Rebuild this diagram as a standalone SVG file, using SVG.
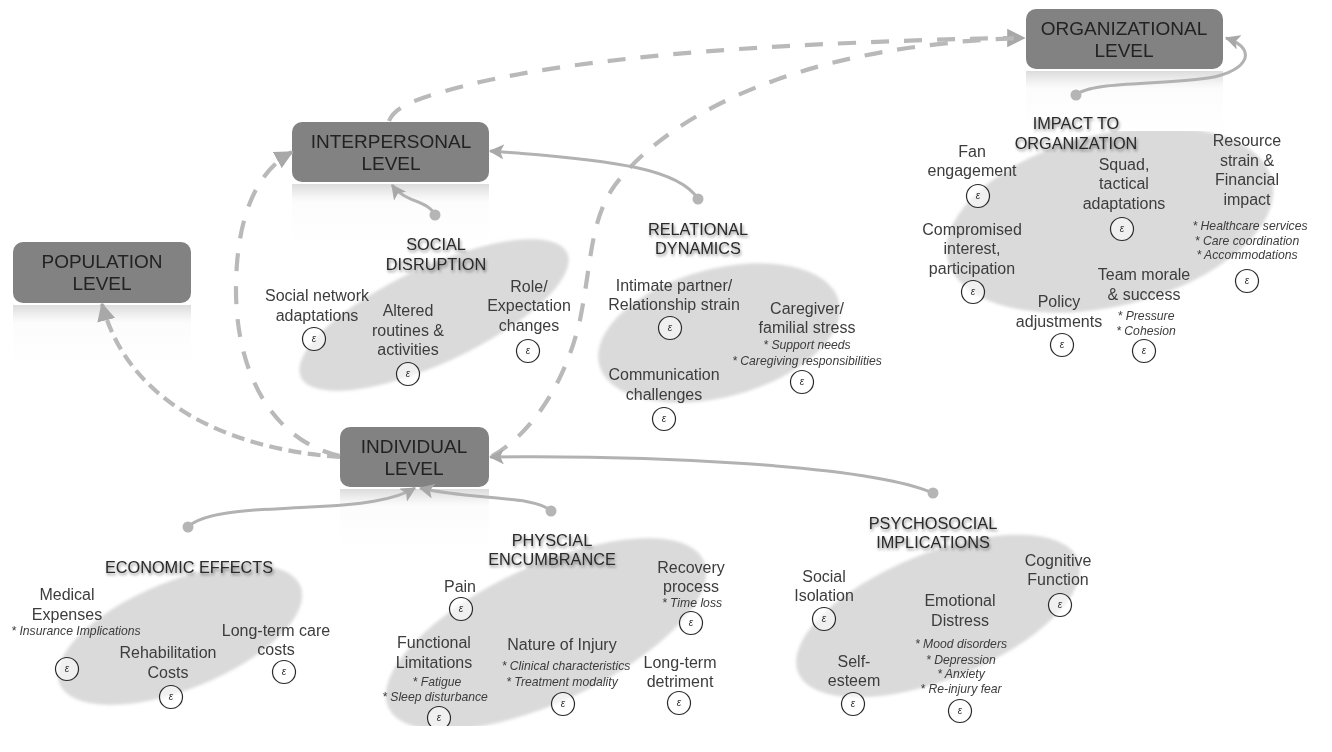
<svg xmlns="http://www.w3.org/2000/svg" width="1332" height="752" viewBox="0 0 1332 752">
<defs>
<style>
text{font-family:"Liberation Sans",Arial,sans-serif;fill:#3c3c3c;text-anchor:middle}
.lv{font-size:19px;fill:#222}
.hd{font-size:16.3px;fill:#2a2a2a;filter:url(#ts)}
.it{font-size:16px}
.sm{font-size:12.2px;font-style:italic}
.e{font-size:10px;font-style:italic;fill:#333}
.c{fill:#fff;fill-opacity:.6;stroke:#2a2a2a;stroke-width:1.2}
.b{fill:#828282}
.el{fill:#dadada;filter:url(#soft2)}
.cn{fill:none;stroke:#b2b2b2;stroke-width:3}
.d{fill:none;stroke:#b9b9b9;stroke-width:4.2;stroke-dasharray:18 15}
.d2{stroke-dasharray:13 6.5}
.dot{fill:#b5b5b5}
</style>
<filter id="ts" x="-10%" y="-30%" width="120%" height="170%"><feDropShadow dx="1" dy="2" stdDeviation="1.5" flood-color="#000" flood-opacity=".45"/></filter>
<filter id="soft" x="-5%" y="-5%" width="110%" height="110%"><feGaussianBlur stdDeviation=".5"/></filter>
<filter id="soft2" x="-5%" y="-5%" width="110%" height="110%"><feGaussianBlur stdDeviation="1.5"/></filter>
<linearGradient id="rf" x1="0" y1="0" x2="0" y2="1"><stop offset="0" stop-color="#dcdcdc"/><stop offset=".22" stop-color="#f6f6f6"/><stop offset=".3" stop-color="#fcfcfc"/><stop offset="1" stop-color="#fff"/></linearGradient>
<marker id="ah" markerWidth="5" markerHeight="5" refX="4.6" refY="2.5" orient="auto"><path d="M0 0L5 2.5L0 5L1.2 2.5Z" fill="#a8a8a8"/></marker>
<marker id="ad" markerWidth="4.4" markerHeight="4.4" refX="4" refY="2.2" orient="auto"><path d="M0 0L4.4 2.2L0 4.4Z" fill="#a8a8a8"/></marker>
</defs>
<rect width="1332" height="752" fill="#fff"/>
<g filter="url(#soft)">
<g id="blobs">
<ellipse class="el" cx="180" cy="635" rx="130" ry="54" transform="rotate(-22 180 635)"/>
<ellipse class="el" cx="434" cy="315" rx="147" ry="48" transform="rotate(-25 434 315)"/>
<ellipse class="el" cx="719" cy="333" rx="124" ry="64" transform="rotate(-15 719 333)"/>
<ellipse class="el" cx="1110" cy="220" rx="167" ry="86" transform="rotate(-14 1110 220)"/>
<ellipse class="el" cx="546" cy="634" rx="174" ry="68" transform="rotate(-25 546 634)"/>
<ellipse class="el" cx="938" cy="616" rx="151" ry="63" transform="rotate(-22 938 616)"/>
<rect x="380" y="726" width="180" height="26" fill="#fff"/>
</g>
<g id="organizational"><rect x="1026" y="71" width="197" height="60" fill="url(#rf)"/><rect x="1026" y="9" width="197" height="60" rx="10" class="b"/><text class="lv" x="1124" y="35">ORGANIZATIONAL</text><text class="lv" x="1124" y="57">LEVEL</text></g>
<g id="interpersonal"><rect x="292" y="184" width="197" height="60" fill="url(#rf)"/><rect x="292" y="122" width="197" height="60" rx="10" class="b"/><text class="lv" x="391" y="148">INTERPERSONAL</text><text class="lv" x="391" y="170">LEVEL</text></g>
<g id="population"><rect x="13" y="305" width="178" height="60" fill="url(#rf)"/><rect x="13" y="242" width="178" height="61" rx="10" class="b"/><text class="lv" x="102" y="268">POPULATION</text><text class="lv" x="102" y="290">LEVEL</text></g>
<g id="individual"><rect x="340" y="489" width="149" height="58" fill="url(#rf)"/><rect x="340" y="427" width="149" height="60" rx="10" class="b"/><text class="lv" x="414" y="453">INDIVIDUAL</text><text class="lv" x="414" y="475">LEVEL</text></g>
<g id="connectors">
<path class="d" d="M389 121C395 105 420 97 480 82C560 64 680 50 850 43C920 40 980 38 1024 38" marker-end="url(#ad)"/>
<path class="d" d="M492 456C530 435 565 385 580 320C592 260 590 220 615 185C660 125 770 60 950 43C970 40 1000 39 1024 38"/>
<path class="d" d="M340 456C270 440 236 370 236 290C236 230 250 175 292 152" marker-end="url(#ad)"/>
<path class="d d2" d="M340 457C240 450 130 410 102 304" marker-end="url(#ad)"/>
<path class="cn" d="M1076 95C1090 82 1150 85 1200 79C1245 75 1262 50 1226 38" marker-end="url(#ah)"/>
<path class="cn" d="M435 215C428 200 405 203 392 185" marker-end="url(#ah)"/>
<path class="cn" d="M698 199C680 170 620 160 490 151" marker-end="url(#ah)"/>
<path class="cn" d="M933 493C870 465 650 455 490 457" marker-end="url(#ah)"/>
<path class="cn" d="M188 527C205 510 260 510 310 507C360 505 395 500 415 488" marker-end="url(#ah)"/>
<path class="cn" d="M551 511C535 495 470 500 420 488" marker-end="url(#ah)"/>
<circle class="dot" cx="1076" cy="95" r="5.5"/>
<circle class="dot" cx="435" cy="215" r="5.5"/>
<circle class="dot" cx="698" cy="199" r="5.5"/>
<circle class="dot" cx="933" cy="493" r="5.5"/>
<circle class="dot" cx="188" cy="527" r="5.5"/>
<circle class="dot" cx="551" cy="511" r="5.5"/>
</g>
<g id="impact">
<text class="hd" x="1076" y="129">IMPACT TO</text><text class="hd" x="1076" y="149">ORGANIZATION</text>
<text class="it" x="972" y="157">Fan</text><text class="it" x="972" y="176">engagement</text>
<text class="it" x="1124" y="170">Squad,</text><text class="it" x="1124" y="189">tactical</text><text class="it" x="1124" y="209">adaptations</text>
<text class="it" x="1247" y="146">Resource</text><text class="it" x="1247" y="166">strain &amp;</text><text class="it" x="1247" y="185">Financial</text><text class="it" x="1247" y="205">impact</text>
<text class="sm" x="1250" y="230">* Healthcare services</text><text class="sm" x="1247" y="245">* Care coordination</text><text class="sm" x="1247" y="259">* Accommodations</text>
<text class="it" x="972" y="235">Compromised</text><text class="it" x="972" y="254">interest,</text><text class="it" x="972" y="274">participation</text>
<text class="it" x="1059" y="307">Policy</text><text class="it" x="1059" y="327">adjustments</text>
<text class="it" x="1144" y="280">Team morale</text><text class="it" x="1144" y="300">&amp; success</text>
<text class="sm" x="1146" y="320">* Pressure</text><text class="sm" x="1146" y="335">* Cohesion</text>
<circle class="c" cx="978" cy="196" r="11.5"/><text class="e" x="978" y="199">ε</text>
<circle class="c" cx="1122" cy="229" r="11.5"/><text class="e" x="1122" y="232">ε</text>
<circle class="c" cx="1247" cy="281" r="11.5"/><text class="e" x="1247" y="284">ε</text>
<circle class="c" cx="973" cy="292" r="11.5"/><text class="e" x="973" y="295">ε</text>
<circle class="c" cx="1062" cy="345" r="11.5"/><text class="e" x="1062" y="348">ε</text>
<circle class="c" cx="1144" cy="351" r="11.5"/><text class="e" x="1144" y="354">ε</text>
</g>
<g id="social">
<text class="hd" x="436" y="250">SOCIAL</text><text class="hd" x="436" y="270">DISRUPTION</text>
<text class="it" x="317" y="301">Social network</text><text class="it" x="317" y="321">adaptations</text>
<text class="it" x="408" y="316">Altered</text><text class="it" x="408" y="336">routines &amp;</text><text class="it" x="408" y="355">activities</text>
<text class="it" x="529" y="292">Role/</text><text class="it" x="529" y="311">Expectation</text><text class="it" x="529" y="331">changes</text>
<circle class="c" cx="314" cy="339" r="11.5"/><text class="e" x="314" y="342">ε</text>
<circle class="c" cx="408" cy="374" r="11.5"/><text class="e" x="408" y="377">ε</text>
<circle class="c" cx="528" cy="351" r="11.5"/><text class="e" x="528" y="354">ε</text>
</g>
<g id="relational">
<text class="hd" x="698" y="235">RELATIONAL</text><text class="hd" x="698" y="254">DYNAMICS</text>
<text class="it" x="674" y="291">Intimate partner/</text><text class="it" x="674" y="310">Relationship strain</text>
<text class="it" x="807" y="314">Caregiver/</text><text class="it" x="807" y="333">familial stress</text>
<text class="sm" x="807" y="349">* Support needs</text><text class="sm" x="807" y="365">* Caregiving responsibilities</text>
<text class="it" x="664" y="380">Communication</text><text class="it" x="664" y="400">challenges</text>
<circle class="c" cx="670" cy="328" r="11.5"/><text class="e" x="670" y="331">ε</text>
<circle class="c" cx="802" cy="382" r="11.5"/><text class="e" x="802" y="385">ε</text>
<circle class="c" cx="664" cy="419" r="11.5"/><text class="e" x="664" y="422">ε</text>
</g>
<g id="economic">
<text class="hd" x="189" y="573">ECONOMIC EFFECTS</text>
<text class="it" x="67" y="600">Medical</text><text class="it" x="67" y="620">Expenses</text>
<text class="sm" x="76" y="635">* Insurance Implications</text>
<text class="it" x="168" y="658">Rehabilitation</text><text class="it" x="168" y="678">Costs</text>
<text class="it" x="276" y="636">Long-term care</text><text class="it" x="276" y="655">costs</text>
<circle class="c" cx="67" cy="669" r="11.5"/><text class="e" x="67" y="672">ε</text>
<circle class="c" cx="171" cy="697" r="11.5"/><text class="e" x="171" y="700">ε</text>
<circle class="c" cx="284" cy="672" r="11.5"/><text class="e" x="284" y="675">ε</text>
</g>
<g id="physical">
<text class="hd" x="552" y="546">PHYSCIAL</text><text class="hd" x="552" y="565">ENCUMBRANCE</text>
<text class="it" x="460" y="592">Pain</text>
<text class="it" x="691" y="573">Recovery</text><text class="it" x="691" y="592">process</text>
<text class="sm" x="692" y="607">* Time loss</text>
<text class="it" x="434" y="648">Functional</text><text class="it" x="434" y="668">Limitations</text>
<text class="sm" x="437" y="686">* Fatigue</text><text class="sm" x="435" y="701">* Sleep disturbance</text>
<text class="it" x="562" y="650">Nature of Injury</text>
<text class="sm" x="566" y="670">* Clinical characteristics</text><text class="sm" x="562" y="686">* Treatment modality</text>
<text class="it" x="680" y="668">Long-term</text><text class="it" x="680" y="687">detriment</text>
<circle class="c" cx="461" cy="609" r="11.5"/><text class="e" x="461" y="612">ε</text>
<circle class="c" cx="691" cy="623" r="11.5"/><text class="e" x="691" y="626">ε</text>
<circle class="c" cx="439" cy="718" r="11.5"/><text class="e" x="439" y="721">ε</text>
<circle class="c" cx="563" cy="704" r="11.5"/><text class="e" x="563" y="707">ε</text>
<circle class="c" cx="679" cy="703" r="11.5"/><text class="e" x="679" y="706">ε</text>
<rect x="425" y="726" width="30" height="6" fill="#fff"/>
</g>
<g id="psychosocial">
<text class="hd" x="933" y="529">PSYCHOSOCIAL</text><text class="hd" x="933" y="548">IMPLICATIONS</text>
<text class="it" x="1058" y="566">Cognitive</text><text class="it" x="1058" y="585">Function</text>
<text class="it" x="824" y="582">Social</text><text class="it" x="824" y="601">Isolation</text>
<text class="it" x="960" y="606">Emotional</text><text class="it" x="960" y="626">Distress</text>
<text class="sm" x="961" y="648">* Mood disorders</text><text class="sm" x="961" y="664">* Depression</text><text class="sm" x="961" y="678">* Anxiety</text><text class="sm" x="961" y="693">* Re-injury fear</text>
<text class="it" x="854" y="667">Self-</text><text class="it" x="854" y="686">esteem</text>
<circle class="c" cx="1060" cy="605" r="11.5"/><text class="e" x="1060" y="608">ε</text>
<circle class="c" cx="824" cy="619" r="11.5"/><text class="e" x="824" y="622">ε</text>
<circle class="c" cx="853" cy="704" r="11.5"/><text class="e" x="853" y="707">ε</text>
<circle class="c" cx="960" cy="711" r="11.5"/><text class="e" x="960" y="714">ε</text>
</g>
</g>
</svg>
